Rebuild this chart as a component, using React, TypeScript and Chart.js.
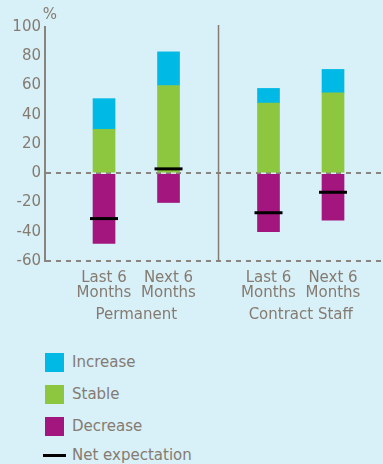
import { useEffect, useRef } from 'react';
import { Chart, registerables } from 'chart.js';

Chart.register(...registerables);

// ---- data ----
const groups = ['Permanent', 'Contract Staff'];
const periodLabels = [
  ['Last 6', 'Months'],
  ['Next 6', 'Months'],
];
const increase = [21, 23, 10, 16];
const stable = [30, 60, 48, 55];
const decrease = [-48, -20, -40, -32];
const net = [-31, 3, -27, -13];
const yTicks = [100, 80, 60, 40, 20, 0, -20, -40, -60];

// ---- styles ----
const BG = '#d8f0f8';
const TEXT = '#857b70';
const DASH = '#8a847e';
const C_INC = '#00b9e4';
const C_STA = '#8dc63f';
const C_DEC = '#a3167e';
const FONT = "'DejaVu Sans', sans-serif";

const GROUP_GAP = 1.55; // distance between last bar of a group and first bar of next (in bar-slot units)
const X_MIN = -0.915;
const X_MAX = 4.325;

const groupSpan = periodLabels.length - 1 + GROUP_GAP;
const positions: number[] = [];
const tickLabels: string[][] = [];
groups.forEach((_, gi) => {
  periodLabels.forEach((p, pi) => {
    positions.push(gi * groupSpan + pi);
    tickLabels.push(p);
  });
});
const groupCenters = groups.map((_, gi) => gi * groupSpan + (periodLabels.length - 1) / 2);
const dividerPos = periodLabels.length - 1 + GROUP_GAP / 2;

const pts = (vals: number[]) => vals.map((v, i) => ({ x: positions[i], y: v }));

const extras = {
  id: 'extras',
  afterDatasetsDraw(chart: any) {
    const { ctx, chartArea, scales } = chart;
    const x = scales.x.getPixelForValue(dividerPos);
    ctx.save();
    ctx.strokeStyle = TEXT;
    ctx.lineWidth = 1.5;
    ctx.beginPath();
    ctx.moveTo(x, chartArea.top - 2);
    ctx.lineTo(x, chartArea.bottom);
    ctx.stroke();
    ctx.fillStyle = TEXT;
    ctx.font = `15px ${FONT}`;
    ctx.textAlign = 'center';
    ctx.textBaseline = 'middle';
    ctx.fillText('%', chartArea.left + 5, chartArea.top - 12);
    ctx.restore();
  },
};

const noPad = (s: any) => {
  s.paddingLeft = 0;
  s.paddingRight = 0;
};

export default function App() {
  const ref = useRef<HTMLCanvasElement | null>(null);

  const datasets: any[] = [
    { type: 'bar', label: 'Stable', data: pts(stable), backgroundColor: C_STA, order: 1 },
    { type: 'bar', label: 'Increase', data: pts(increase), backgroundColor: C_INC, order: 1 },
    { type: 'bar', label: 'Decrease', data: pts(decrease), backgroundColor: C_DEC, order: 1 },
    {
      type: 'line',
      label: 'Net expectation',
      data: pts(net),
      showLine: false,
      pointStyle: 'line',
      pointRadius: 14,
      pointHoverRadius: 14,
      borderColor: '#000',
      pointBorderColor: '#000',
      pointBorderWidth: 3,
      borderWidth: 3,
      order: 0,
    },
  ];

  const legendItems = [
    { label: 'Increase', color: C_INC, kind: 'box' },
    { label: 'Stable', color: C_STA, kind: 'box' },
    { label: 'Decrease', color: C_DEC, kind: 'box' },
    { label: 'Net expectation', color: '#000', kind: 'line' },
  ];

  useEffect(() => {
    document.body.style.margin = '0';
    document.body.style.background = BG;
    if (!ref.current) return;
    const fontCfg = { family: FONT, size: 15, lineHeight: 1 };
    const chart = new Chart(ref.current, {
      type: 'bar',
      data: { datasets },
      plugins: [extras],
      options: {
        animation: false,
        responsive: false,
        maintainAspectRatio: false,
        layout: { autoPadding: false, padding: { top: 27, left: 0, right: 0, bottom: 0 } },
        plugins: { legend: { display: false }, tooltip: { enabled: false } },
        datasets: { bar: { barThickness: 22, borderWidth: 0 } },
        scales: {
          x: {
            type: 'linear',
            stacked: true,
            offset: false,
            min: X_MIN,
            max: X_MAX,
            weight: 0,
            grid: { display: false, drawTicks: false, offset: false },
            border: { display: false },
            afterBuildTicks: (s: any) => {
              s.ticks = positions.map((v) => ({ value: v }));
            },
            ticks: {
              autoSkip: false,
              maxRotation: 0,
              padding: 10,
              color: TEXT,
              font: fontCfg,
              callback: (_v: any, i: number) => tickLabels[i],
            },
            afterFit: (s: any) => {
              s.height = 38;
              noPad(s);
            },
          },
          x2: {
            type: 'linear',
            position: 'bottom',
            offset: false,
            min: X_MIN,
            max: X_MAX,
            weight: 1,
            grid: { display: false, drawTicks: false, offset: false },
            border: { display: false },
            afterBuildTicks: (s: any) => {
              s.ticks = groupCenters.map((v) => ({ value: v }));
            },
            ticks: {
              autoSkip: false,
              maxRotation: 0,
              padding: 9,
              color: TEXT,
              font: fontCfg,
              callback: (_v: any, i: number) => groups[i],
            },
            afterFit: (s: any) => {
              s.height = 41;
              noPad(s);
            },
          },
          y: {
            stacked: true,
            min: -60,
            max: 100,
            afterBuildTicks: (s: any) => {
              s.ticks = yTicks.map((v) => ({ value: v }));
            },
            ticks: { padding: 4, color: TEXT, font: fontCfg },
            grid: {
              drawTicks: false,
              color: (c: any) => (c.tick && (c.tick.value === 0 || c.tick.value === -60) ? DASH : 'transparent'),
              lineWidth: 2,
            },
            border: { display: true, dash: [5, 5], color: DASH, width: 2 },
            afterFit: (s: any) => {
              s.width = 45;
            },
          },
        },
      } as any,
    });
    return () => chart.destroy();
  }, []);

  return (
    <div style={{ position: 'relative', width: 383, height: 464, background: BG, overflow: 'hidden' }}>
      <canvas ref={ref} width={383} height={340} style={{ position: 'absolute', left: 0, top: 0 }} />
      <div
        style={{
          position: 'absolute',
          left: 45,
          top: 346,
          fontFamily: FONT,
          fontSize: 15,
          color: TEXT,
        }}
      >
        {legendItems.map((it, i) => (
          <div
            key={it.label}
            style={{
              display: 'flex',
              alignItems: 'center',
              height: i === legendItems.length - 1 ? 26 : 32,
            }}
          >
            {it.kind === 'box' ? (
              <span style={{ display: 'inline-block', width: 19, height: 19, background: it.color, marginRight: 8 }} />
            ) : (
              <span
                style={{ display: 'inline-block', width: 23, height: 3, background: it.color, marginLeft: -2, marginRight: 6 }}
              />
            )}
            <span>{it.label}</span>
          </div>
        ))}
      </div>
    </div>
  );
}
